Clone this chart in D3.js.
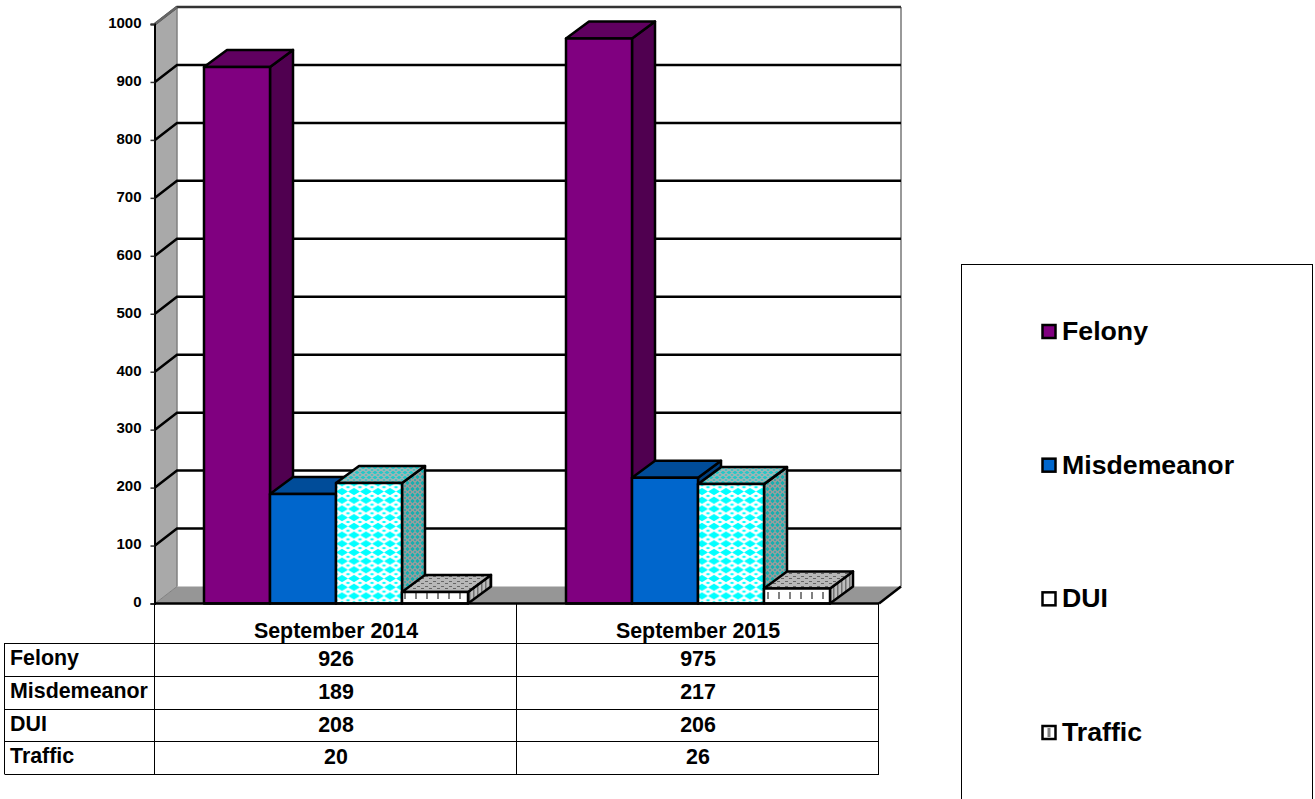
<!DOCTYPE html>
<html>
<head>
<meta charset="utf-8">
<script src="https://cdn.jsdelivr.net/npm/d3@7"></script>
<style>
html, body { margin: 0; padding: 0; background: #fff; overflow: hidden; }
svg { display: block; }
text { font-family: "Liberation Sans", Arial, sans-serif; font-weight: bold; fill: #000; }
</style>
</head>
<body>
<script>
// chart values
var categories = ["September 2014", "September 2015"];
var seriesNames = ["Felony", "Misdemeanor", "DUI", "Traffic"];
var felony = [926, 975];
var misdemeanor = [189, 217];
var dui = [208, 206];
var traffic = [20, 26];
var yTicks = [0, 100, 200, 300, 400, 500, 600, 700, 800, 900, 1000];

var seriesValues = [felony, misdemeanor, dui, traffic];

var width = 1315, height = 799;
var depthX = 22, depthY = -17;   // 3d offset of back wall

var svg = d3.select("body").append("svg")
    .attr("width", width)
    .attr("height", height);

// patterns for DUI and Traffic
var defs = svg.append("defs");

function diamond(p, cx, cy, rx, ry, fg) {
    p.append("path")
        .attr("d", "M" + (cx - rx) + "," + cy + "L" + cx + "," + (cy - ry) +
            "L" + (cx + rx) + "," + cy + "L" + cx + "," + (cy + ry) + "Z")
        .attr("fill", fg);
}

function diamondPattern(id, bg, fg, w, h, rx, ry, rx2, ry2) {
    var p = defs.append("pattern").attr("id", id)
        .attr("patternUnits", "userSpaceOnUse").attr("width", w).attr("height", h);
    p.append("rect").attr("width", w).attr("height", h).attr("fill", bg);
    diamond(p, w / 2, h / 2, rx, ry, fg);
    // smaller ones in the gaps
    [[0, 0], [w, 0], [0, h], [w, h]].forEach(function (c) {
        diamond(p, c[0], c[1], rx2, ry2, fg);
    });
}
diamondPattern("duiFront", "#fff", "#00ffff", 12, 8.7, 6, 3.6, 2.6, 1.3);
diamondPattern("duiTop", "#a4b4b4", "#22c8c8", 6, 5, 2.6, 1.8, 1.6, 1);
diamondPattern("duiSide", "#9c9c9c", "#14b0b0", 5, 6, 2.2, 2.2, 1.2, 1.2);

var tf = defs.append("pattern").attr("id", "trafficFront")
    .attr("patternUnits", "userSpaceOnUse").attr("width", 11).attr("height", 16)
    .attr("x", 3);
tf.append("rect").attr("width", 11).attr("height", 16).attr("fill", "#fff");
tf.append("rect").attr("x", 5).attr("y", 0).attr("width", 2).attr("height", 7).attr("fill", "#808080");

var tt = defs.append("pattern").attr("id", "trafficTop")
    .attr("patternUnits", "userSpaceOnUse").attr("width", 8).attr("height", 5);
tt.append("rect").attr("width", 8).attr("height", 5).attr("fill", "#b8b8b8");
tt.append("rect").attr("x", 1).attr("y", 1).attr("width", 3).attr("height", 1).attr("fill", "#666");
tt.append("rect").attr("x", 5).attr("y", 3).attr("width", 3).attr("height", 1).attr("fill", "#666");

var ts = defs.append("pattern").attr("id", "trafficSide")
    .attr("patternUnits", "userSpaceOnUse").attr("width", 4).attr("height", 5);
ts.append("rect").attr("width", 4).attr("height", 5).attr("fill", "#bcbcbc");
ts.append("rect").attr("x", 1).attr("width", 1.5).attr("height", 5).attr("fill", "#707070");

// scales
var x0 = d3.scaleBand().domain(categories).range([155, 879]);
var x1 = d3.scaleBand().domain(seriesNames).range([49, 313]);
var y = d3.scaleLinear().domain([0, 1000]).range([603.5, 24]);

var left = x0.range()[0], right = x0.range()[1];

function poly(points) {
    return "M" + points.map(function (p) { return p.join(","); }).join("L") + "Z";
}

// side wall
svg.append("path")
    .attr("d", poly([[left, y(0)], [left, y(1000)], [left + depthX, y(1000) + depthY], [left + depthX, y(0) + depthY]]))
    .attr("fill", "#a9a9a9");
// floor
svg.append("path")
    .attr("d", poly([[left, y(0)], [left + depthX, y(0) + depthY], [right + depthX, y(0) + depthY], [right, y(0)]]))
    .attr("fill", "#969696");

// back wall frame
svg.append("path")
    .attr("d", "M" + (right + depthX) + "," + (y(0) + depthY) + "V" + (y(1000) + depthY))
    .attr("fill", "none").attr("stroke", "#999").attr("stroke-width", 2);
svg.append("path")
    .attr("d", "M" + (left + depthX) + "," + (y(0) + depthY) + "V" + (y(1000) + depthY))
    .attr("fill", "none").attr("stroke", "#808080").attr("stroke-width", 1.5);

// gridlines
svg.selectAll(".grid").data(yTicks.slice(1)).enter().append("path")
    .attr("class", "grid")
    .attr("d", function (d) {
        return "M" + left + "," + y(d) + "L" + (left + depthX) + "," + (y(d) + depthY) + "H" + (right + depthX);
    })
    .attr("fill", "none")
    .attr("stroke", function (d) { return d === 1000 ? "#333" : "#000"; })
    .attr("stroke-width", 2.5);
// the top diagonal is grey
svg.append("path")
    .attr("d", "M" + left + "," + y(1000) + "L" + (left + depthX) + "," + (y(1000) + depthY))
    .attr("fill", "none").attr("stroke", "#666").attr("stroke-width", 2.5);

// bottom edges of floor
svg.append("path")
    .attr("d", "M" + left + "," + y(0) + "L" + (left + depthX) + "," + (y(0) + depthY))
    .attr("stroke", "#808080").attr("fill", "none");
svg.append("path")
    .attr("d", "M" + right + "," + y(0) + "L" + (right + depthX) + "," + (y(0) + depthY))
    .attr("stroke", "#000").attr("stroke-width", 2.5).attr("fill", "none");

// bars
var fills = {
    Felony: { front: "#800080", top: "#600060", side: "#500050" },
    Misdemeanor: { front: "#0066cc", top: "#004c99", side: "#004080" },
    DUI: { front: "url(#duiFront)", top: "url(#duiTop)", side: "url(#duiSide)" },
    Traffic: { front: "url(#trafficFront)", top: "url(#trafficTop)", side: "url(#trafficSide)" }
};
var barDepthX = 23, barDepthY = -17;

categories.forEach(function (cat, c) {
    seriesNames.forEach(function (name, s) {
        var xa = x0(cat) + x1(name), xb = xa + x1.bandwidth();
        var yt = y(seriesValues[s][c]), yb = y(0);
        var g = svg.append("g").attr("stroke", "#000").attr("stroke-width", 2.5).attr("stroke-linejoin", "round");
        g.append("path").attr("fill", fills[name].side)
            .attr("d", poly([[xb, yt], [xb + barDepthX, yt + barDepthY], [xb + barDepthX, yb + barDepthY], [xb, yb]]));
        g.append("path").attr("fill", fills[name].top)
            .attr("d", poly([[xa, yt], [xa + barDepthX, yt + barDepthY], [xb + barDepthX, yt + barDepthY], [xb, yt]]));
        g.append("path").attr("fill", fills[name].front)
            .attr("d", poly([[xa, yt], [xb, yt], [xb, yb], [xa, yb]]));
    });
});

// base line
svg.append("line")
    .attr("x1", left).attr("x2", right).attr("y1", y(0)).attr("y2", y(0))
    .attr("stroke", "#000").attr("stroke-width", 2.5);

// y axis
var yAxis = svg.append("g")
    .attr("transform", "translate(" + (left - 0.5) + ",0)")
    .call(d3.axisLeft(y).tickValues(yTicks).tickFormat(d3.format("d")).tickSize(4).tickPadding(9));
yAxis.select(".domain").attr("stroke", "#000").attr("stroke-width", 2);
yAxis.selectAll(".tick line").attr("stroke", "#333").attr("stroke-width", 1.5);
yAxis.selectAll("text")
    .attr("y", -1.5)
    .style("font-family", '"Liberation Sans", Arial, sans-serif')
    .style("font-weight", "bold")
    .style("font-size", "15px");

// data table
var rowY = d3.scaleOrdinal().domain(seriesNames).range([643, 676, 709, 741]);
var tableBottom = 774, tableLeft = 5;
var table = svg.append("g").attr("stroke", "#000").attr("stroke-width", 1);

[643, 676, 709, 741, 774].forEach(function (ly) {
    table.append("line").attr("x1", tableLeft).attr("x2", right)
        .attr("y1", ly + 0.5).attr("y2", ly + 0.5);
});
[tableLeft, left, x0(categories[1]), right].forEach(function (lx, i) {
    table.append("line").attr("x1", lx - 0.5).attr("x2", lx - 0.5)
        .attr("y1", i === 0 ? 643 : y(0)).attr("y2", tableBottom + 0.5);
});

var fontSize = "21.4px";
svg.selectAll(".catLabel").data(categories).enter().append("text")
    .attr("class", "catLabel")
    .attr("x", function (d) { return x0(d) + x0.bandwidth() / 2; })
    .attr("y", 638)
    .attr("text-anchor", "middle")
    .style("font-size", fontSize)
    .text(function (d) { return d; });

seriesNames.forEach(function (name, s) {
    svg.append("text").attr("x", 10).attr("y", rowY(name) + 22)
        .style("font-size", fontSize).text(name);
    categories.forEach(function (cat, c) {
        svg.append("text")
            .attr("x", x0(cat) + x0.bandwidth() / 2)
            .attr("y", rowY(name) + 23)
            .attr("text-anchor", "middle")
            .style("font-size", fontSize)
            .text(seriesValues[s][c]);
    });
});

// legend
svg.append("rect")
    .attr("x", 961.5).attr("y", 264.5).attr("width", 351).attr("height", 560)
    .attr("fill", "#fff").attr("stroke", "#000").attr("stroke-width", 1);

var legendY = d3.scalePoint().domain(seriesNames).range([331, 732]);
var legendFill = { Felony: "#800080", Misdemeanor: "#0066cc", DUI: "#fff", Traffic: "#fff" };
var legend = svg.selectAll(".legendItem").data(seriesNames).enter().append("g")
    .attr("class", "legendItem")
    .attr("transform", function (d) { return "translate(1042," + legendY(d) + ")"; });
legend.append("rect")
    .attr("x", 0.5).attr("y", -6).attr("width", 13).attr("height", 13)
    .attr("fill", function (d) { return legendFill[d]; })
    .attr("stroke", "#000").attr("stroke-width", 2.5);
legend.filter(function (d) { return d === "Traffic"; }).append("rect")
    .attr("x", 5.5).attr("y", -4).attr("width", 3).attr("height", 9)
    .attr("fill", "#808080");
legend.append("text")
    .attr("x", 20).attr("y", 9)
    .style("font-size", "26.7px")
    .text(function (d) { return d; });
</script>
</body>
</html>
